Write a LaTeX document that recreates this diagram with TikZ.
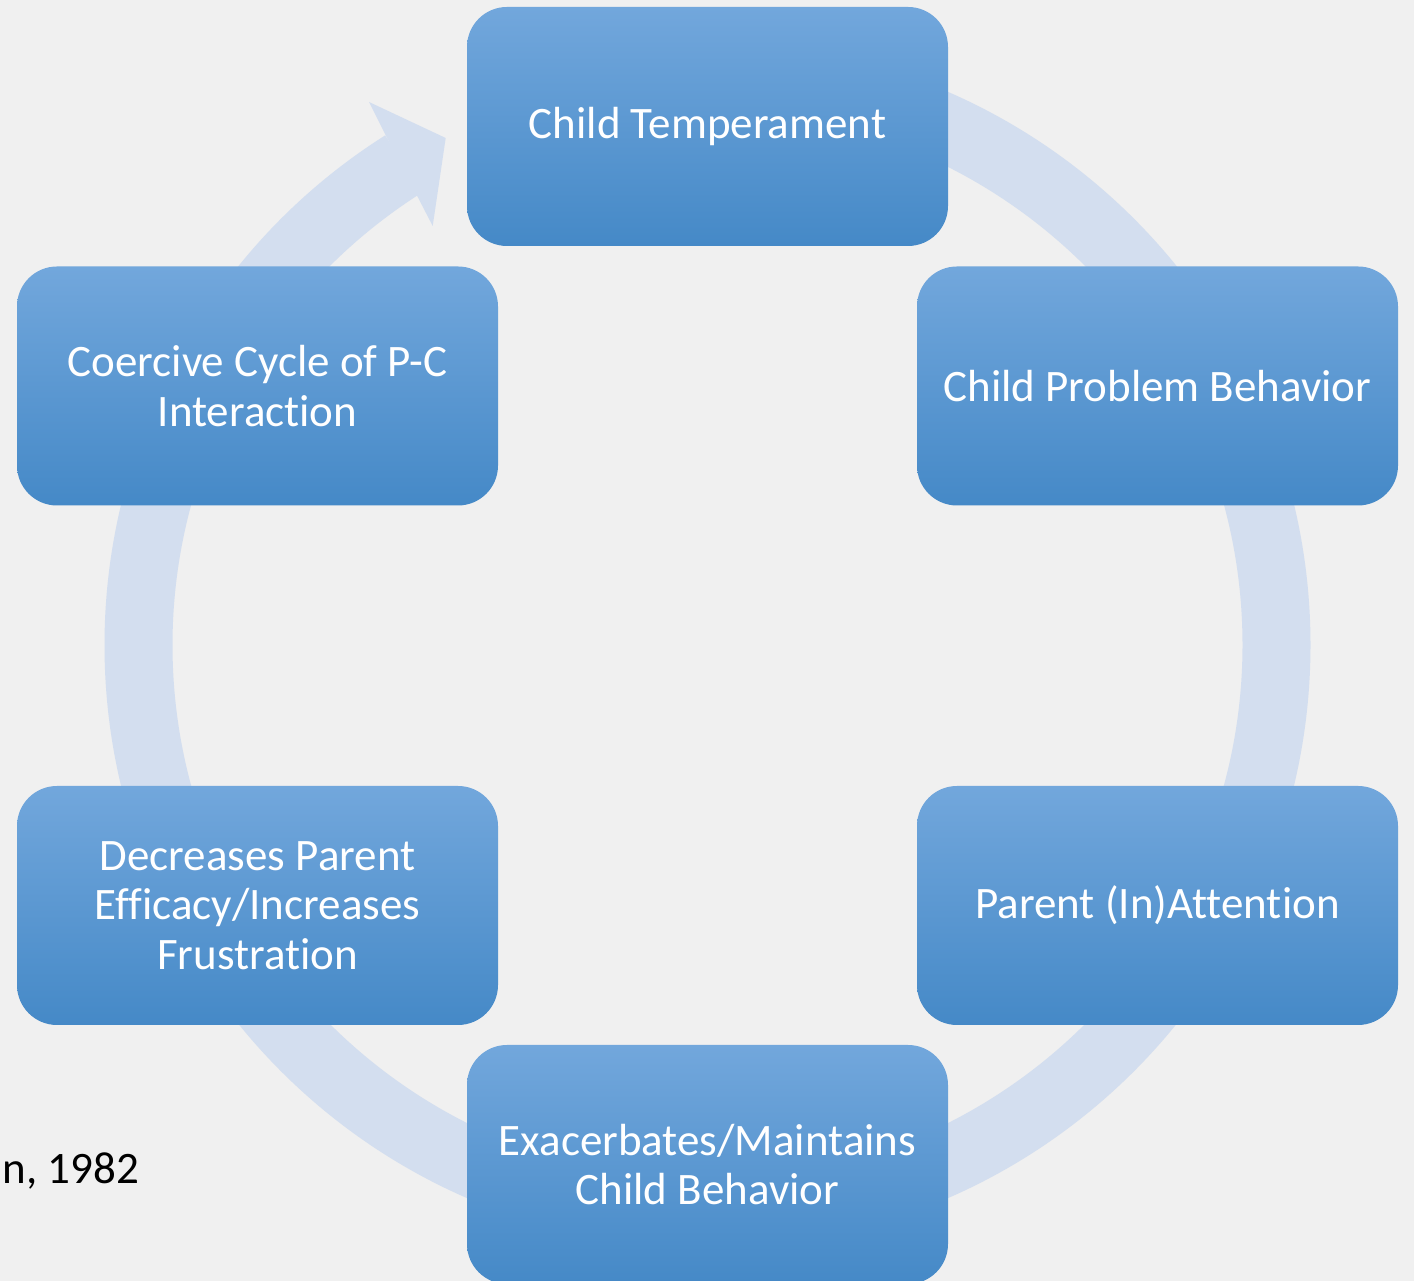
\documentclass[tikz,border=0pt]{standalone}
\usepackage{fontspec}
\setmainfont[RawFeature={-liga;-calt;-dlig}]{Carlito}
\usepackage{tikz}
\usetikzlibrary{positioning}

\definecolor{pagebg}{HTML}{F0F0F0}
\definecolor{ringblue}{HTML}{D3DEEF}
\definecolor{boxtop}{HTML}{72A7DC}
\definecolor{boxmid}{HTML}{5B9CDB}
\definecolor{boxbot}{HTML}{4589C7}

\tikzset{
  cyclebox/.style={rounded corners=40pt, top color=boxtop, middle color=boxmid,
    bottom color=boxbot, minimum width=481pt, minimum height=239pt,
    align=center, text=white, font=\fontsize{45}{49.5}\selectfont, inner sep=0pt},
  ringband/.style={draw=ringblue, line width=68pt},
  ringhead/.style={fill=ringblue},
}

\begin{document}
\begin{tikzpicture}[x=1pt, y=1pt]
        % Page and centre of the cycle
        \fill[pagebg] (0,0) rectangle (1414,1281);
        \useasboundingbox (0,0) rectangle (1414,1281);
        \coordinate (O) at (707.5,636);

        % Background ring with its arrow head
        \draw[ringband] (O) ++(90:569) arc[start angle=90, end angle=-237.7, radius=569];
        \coordinate (tip) at (445.7,1143);
        \coordinate (barbout) at (369,1179);
        \coordinate (barbin) at (432.7,1055);
        \coordinate (notchin) at (416.7,1086);
        \coordinate (notchout) at (385,1147);
        \fill[ringhead] (barbout) -- (tip) -- (barbin) -- (notchin) -- (notchout) -- cycle;

        % Stages of the cycle
        \node[cyclebox] (temper) at (707.5,1154.5) {Child Temperament};
        \node[cyclebox] (problem) at (1157.5,895) {Child Problem Behavior};
        \node[cyclebox] (attention) at (1157.5,375.5) {Parent (In)Attention};
        \node[cyclebox] (maintain) at (707.5,116.5) {Exacerbates/Maintains\\Child Behavior};
        \node[cyclebox] (efficacy) at (257.5,375.5) {Decreases Parent\\Efficacy/Increases\\Frustration};
        \node[cyclebox] (coercive) at (257.5,895) {Coercive Cycle of P-C\\Interaction};

        % Citation
        \node[anchor=base east, inner sep=0pt, font=\fontsize{45}{49.5}\selectfont] (cite) at (139,97) {n, 1982};
\end{tikzpicture}
\end{document}
